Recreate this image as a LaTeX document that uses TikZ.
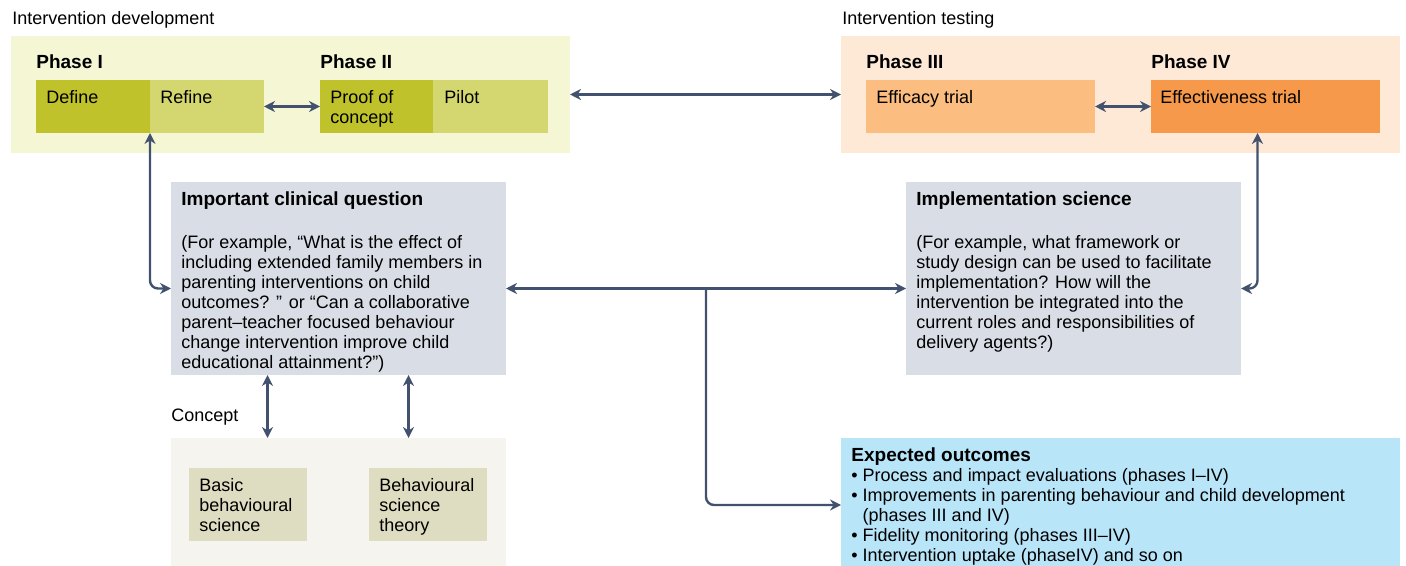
\documentclass[tikz,border=0pt]{standalone}
\usepackage{fontspec}
\setmainfont{Liberation Sans}
\usetikzlibrary{arrows.meta}
\definecolor{devbg}{HTML}{F4F6D4}
\definecolor{testbg}{HTML}{FDE9D6}
\definecolor{darkolive}{HTML}{BFC22B}
\definecolor{lightolive}{HTML}{D4D76F}
\definecolor{lightorange}{HTML}{FBBD80}
\definecolor{darkorange}{HTML}{F6994B}
\definecolor{questc}{HTML}{D9DEE6}
\definecolor{outc}{HTML}{B9E5F9}
\definecolor{conceptbg}{HTML}{F5F4EF}
\definecolor{conceptc}{HTML}{DEDCC1}
\definecolor{linkc}{HTML}{42526E}
\def\px{0.5pt}
\tikzstyle{box} = [anchor=north west, inner sep=0pt, outer sep=0pt]
\tikzstyle{txt} = [anchor=north west, inner sep=0pt, align=left,
  font=\fontsize{9}{10}\selectfont]
\tikzstyle{head} = [txt, font=\fontsize{9.5}{11}\selectfont\bfseries]
\tikzstyle{link} = [linkc, line width=1.2pt, <->, rounded corners=4pt]

\begin{document}
\begin{tikzpicture}[
    x=\px, y=-\px,
    >={Stealth[length=5.5pt,width=5.5pt]}
  ]
    \useasboundingbox (0,0) rectangle (1406,566);

    % Panels
    \node[box, fill=devbg, minimum width=559*\px, minimum height=117*\px] (dev) at (11,36) {};
    \node[box, fill=testbg, minimum width=559*\px, minimum height=117*\px] (test) at (841,36) {};
    \node[box, fill=conceptbg, minimum width=335*\px, minimum height=128*\px] (concept) at (171,438) {};

    % Phases
    \node[box, fill=darkolive, minimum width=114*\px, minimum height=53*\px] (define) at (36,80) {};
    \node[box, fill=lightolive, minimum width=114*\px, minimum height=53*\px] (refine) at (150,80) {};
    \node[box, fill=darkolive, minimum width=113*\px, minimum height=53*\px] (proof) at (320,80) {};
    \node[box, fill=lightolive, minimum width=115*\px, minimum height=53*\px] (pilot) at (433,80) {};
    \node[box, fill=lightorange, minimum width=229*\px, minimum height=53*\px] (efficacy) at (866,80) {};
    \node[box, fill=darkorange, minimum width=229*\px, minimum height=53*\px] (effect) at (1151,80) {};

    % Questions
    \node[box, fill=questc, minimum width=335*\px, minimum height=193*\px] (question) at (171,182) {};
    \node[box, fill=questc, minimum width=335*\px, minimum height=193*\px] (impl) at (906,182) {};
    \node[box, fill=outc, minimum width=559*\px, minimum height=128*\px] (expected) at (841,438) {};
    \node[box, fill=conceptc, minimum width=118*\px, minimum height=73*\px] (basic) at (189,468) {};
    \node[box, fill=conceptc, minimum width=118*\px, minimum height=73*\px] (theory) at (369,468) {};

    % Labels
    \node[txt] (devT) at (12,11) {Intervention development};
    \node[txt] (testT) at (842,11) {Intervention testing};
    \node[txt] (conceptT) at (171,409) {Concept};
    \node[head] (phaseI) at (36,54) {Phase I};
    \node[head] (phaseII) at (320,54) {Phase II};
    \node[head] (phaseIII) at (866,54) {Phase III};
    \node[head] (phaseIV) at (1151,54) {Phase IV};
    \node[txt] (defineT) at ([shift={(10,10)}]define.north west) {Define};
    \node[txt] (refineT) at ([shift={(10,10)}]refine.north west) {Refine};
    \node[txt] (proofT) at ([shift={(10,10)}]proof.north west) {Proof of\\concept};
    \node[txt] (pilotT) at ([shift={(11,10)}]pilot.north west) {Pilot};
    \node[txt] (efficacyT) at ([shift={(10,10)}]efficacy.north west) {Efficacy trial};
    \node[txt] (effectT) at ([shift={(9,10)}]effect.north west) {Effectiveness trial};
    \node[head] (questionH) at ([shift={(10,9)}]question.north west) {Important clinical question};
    \node[txt] (questionT) at ([shift={(10,53)}]question.north west)
      {(For example, “What is the effect of\\including extended family members in\\parenting interventions on child\\outcomes? ” or “Can a collaborative\\parent–teacher focused behaviour\\change intervention improve child\\educational attainment?”)};
    \node[head] (implH) at ([shift={(10,9)}]impl.north west) {Implementation science};
    \node[txt] (implT) at ([shift={(10,53)}]impl.north west)
      {(For example, what framework or\\study design can be used to facilitate\\implementation? How will the\\intervention be integrated into the\\current roles and responsibilities of\\delivery agents?)};
    \node[head] (expectedH) at ([shift={(10,9)}]expected.north west) {Expected outcomes};
    \node[txt] (expectedT) at ([shift={(10,30)}]expected.north west)
      {• Process and impact evaluations (phases I–IV)\\• Improvements in parenting behaviour and child development\\\phantom{• }(phases III and IV)\\• Fidelity monitoring (phases III–IV)\\• Intervention uptake (phaseIV) and so on};
    \node[txt] (basicT) at ([shift={(10,10)}]basic.north west) {Basic\\behavioural\\science};
    \node[txt] (theoryT) at ([shift={(10,10)}]theory.north west) {Behavioural\\science\\theory};

    % Arrows
    \coordinate (split) at (706,289);
    \draw[link] (refine.east) -- (proof.west);
    \draw[link] (efficacy.east) -- (effect.west);
    \draw[link] (dev.east) -- (test.west);
    \draw[link] (define.south east) |- ([yshift=-5pt]question.west);
    \draw[link] ([xshift=-4pt]effect.south) |- ([yshift=-5pt]impl.east);
    \draw[link] ([yshift=-5pt]question.east) -- ([yshift=-5pt]impl.west);
    \draw[link, ->] (split) |- ([yshift=-1.5pt]expected.west);
    \draw[link] ([xshift=-35.5pt]question.south) -- ([xshift=-35.5pt]concept.north);
    \draw[link] ([xshift=35pt]question.south) -- ([xshift=35pt]concept.north);
\end{tikzpicture}
\end{document}
